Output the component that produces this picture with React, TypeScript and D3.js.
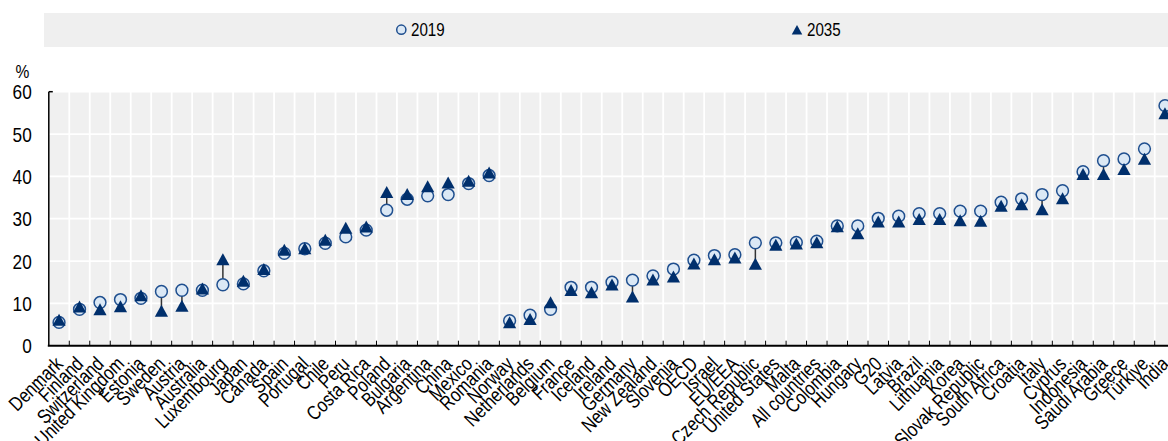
import React from 'react'
import * as d3 from 'd3'

const countries = [
  'Denmark', 'Finland', 'Switzerland', 'United Kingdom', 'Estonia', 'Sweden', 'Austria', 'Australia',
  'Luxembourg', 'Japan', 'Canada', 'Spain', 'Portugal', 'Chile', 'Peru', 'Costa Rica', 'Poland',
  'Bulgaria', 'Argentina', 'China', 'Mexico', 'Romania', 'Norway', 'Netherlands', 'Belgium', 'France',
  'Iceland', 'Ireland', 'Germany', 'New Zealand', 'Slovenia', 'OECD', 'Israel', 'EU/EEA',
  'Czech Republic', 'United States', 'Malta', 'All countries', 'Colombia', 'Hungary', 'G20', 'Latvia',
  'Brazil', 'Lithuania', 'Korea', 'Slovak Republic', 'South Africa', 'Croatia', 'Italy', 'Cyprus',
  'Indonesia', 'Saudi Arabia', 'Greece', 'Türkiye', 'India'
]

const values2019 = [
  5.5, 8.6, 10.2, 10.9, 11.2, 12.8, 13.1, 13.1, 14.4, 14.6, 17.7, 21.8, 22.9, 24.2, 25.7, 27.3, 32.0,
  34.6, 35.4, 35.7, 38.3, 40.2, 5.9, 7.2, 8.6, 13.8, 13.8, 15.0, 15.5, 16.5, 18.1, 20.2, 21.3, 21.5,
  24.3, 24.3, 24.4, 24.7, 28.3, 28.3, 30.1, 30.6, 31.2, 31.2, 31.8, 31.8, 33.9, 34.7, 35.7, 36.6,
  41.1, 43.7, 44.1, 46.5, 56.7
]

const values2035 = [
  5.9, 9.0, 8.4, 9.1, 11.7, 8.0, 9.2, 13.3, 20.2, 15.1, 17.9, 22.4, 22.8, 24.8, 27.6, 27.9, 36.1,
  35.6, 37.4, 38.3, 38.7, 40.7, 5.3, 6.1, 10.0, 12.9, 12.4, 14.2, 11.4, 15.4, 16.1, 19.2, 20.2, 20.6,
  19.1, 23.6, 23.9, 24.2, 28.0, 26.3, 29.1, 29.1, 29.7, 29.7, 29.4, 29.3, 32.8, 33.2, 32.0, 34.6,
  40.3, 40.3, 41.5, 43.9, 54.7
]

const yTicks = [0, 10, 20, 30, 40, 50, 60]
const seriesNames = ['2019', '2035']

// no narrow face installed, so squeeze the regular one horizontally
const FONT = "'Liberation Sans', Arial, sans-serif"
const NARROW = 0.82
const NAVY = '#002f6c'
const CIRCLE_FILL = '#dbe8f5'
const CIRCLE_STROKE = '#1f4f8f'

const W = 1168
const H = 441
const left = 48.8
const step = 20.48
const top = 91.7
const bottom = 345.7

const tri = 'M0,-7L6.6,5L-6.6,5Z'

export default function App() {
  const x = d3
    .scaleBand()
    .domain(countries)
    .range([left, left + step * countries.length])
    .padding(0)
  const y = d3.scaleLinear().domain([0, 60]).range([bottom, top])
  const cx = (c: string) => (x(c) as number) + x.bandwidth() / 2

  const boundaries = countries.map(c => x(c) as number).slice(1)
  boundaries.push(x.range()[1])

  return (
    <svg
      width={W}
      height={H}
      style={{position: 'absolute', left: 0, top: 0, fontFamily: FONT}}
    >
      {/* legend */}
      <rect x={44} y={13} width={W - 44} height={34} fill="#efefef" />
      <circle cx={401.3} cy={29.7} r={4.6} fill={CIRCLE_FILL} stroke={CIRCLE_STROKE} strokeWidth={1.5} />
      <text transform={`translate(411,35.7) scale(${NARROW},1)`} fontSize={18.5} fill="#000">
        {seriesNames[0]}
      </text>
      <path d={tri} transform="translate(797,30.5) scale(0.8)" fill={NAVY} />
      <text transform={`translate(807,35.7) scale(${NARROW},1)`} fontSize={18.5} fill="#000">
        {seriesNames[1]}
      </text>

      {/* plot background */}
      <rect x={left} y={top} width={x.range()[1] - left} height={bottom - top} fill="#f0f0f0" />
      {yTicks.slice(1).map(t => (
        <line key={t} x1={left} x2={x.range()[1]} y1={y(t)} y2={y(t)} stroke="#fff" strokeWidth={1.8} />
      ))}
      {boundaries.map((b, i) => (
        <line key={i} x1={b} x2={b} y1={top} y2={bottom} stroke="#fff" strokeWidth={1.8} />
      ))}

      {/* axes */}
      <line x1={left} x2={left} y1={top} y2={bottom} stroke="#000" strokeWidth={1.5} />
      <line x1={left} x2={left + 4} y1={top} y2={top} stroke="#000" strokeWidth={1.5} />
      {boundaries.map((b, i) => (
        <line key={i} x1={b} x2={b} y1={bottom - 5} y2={bottom} stroke="#000" strokeWidth={1} />
      ))}
      <line x1={left - 1} x2={x.range()[1]} y1={bottom} y2={bottom} stroke="#000" strokeWidth={2} />

      {yTicks.map(t => (
        <text
          key={t}
          transform={`translate(31.7,${y(t) + 7.5}) scale(${NARROW},1)`}
          fontSize={21}
          textAnchor="end"
          fill="#000"
        >
          {t}
        </text>
      ))}
      <text transform={`translate(22.5,78) scale(${NARROW},1)`} fontSize={19} textAnchor="middle" fill="#000">
        %
      </text>

      {/* connectors */}
      {countries.map((c, i) => (
        <line
          key={c}
          x1={cx(c)}
          x2={cx(c)}
          y1={y(values2019[i])}
          y2={y(values2035[i])}
          stroke="#333"
          strokeWidth={1.5}
        />
      ))}

      {/* 2019 */}
      {countries.map((c, i) => (
        <circle
          key={c}
          cx={cx(c)}
          cy={y(values2019[i])}
          r={5.9}
          fill={CIRCLE_FILL}
          stroke={CIRCLE_STROKE}
          strokeWidth={1.5}
        />
      ))}

      {/* 2035 */}
      {countries.map((c, i) => (
        <path key={c} d={tri} transform={`translate(${cx(c)},${y(values2035[i])})`} fill={NAVY} />
      ))}

      {/* category labels */}
      {countries.map(c => (
        <text
          key={c}
          transform={`translate(${cx(c) + 5},${bottom + 19.5}) rotate(-45) scale(${NARROW},1)`}
          fontSize={20}
          textAnchor="end"
          fill="#000"
        >
          {c}
        </text>
      ))}
    </svg>
  )
}
